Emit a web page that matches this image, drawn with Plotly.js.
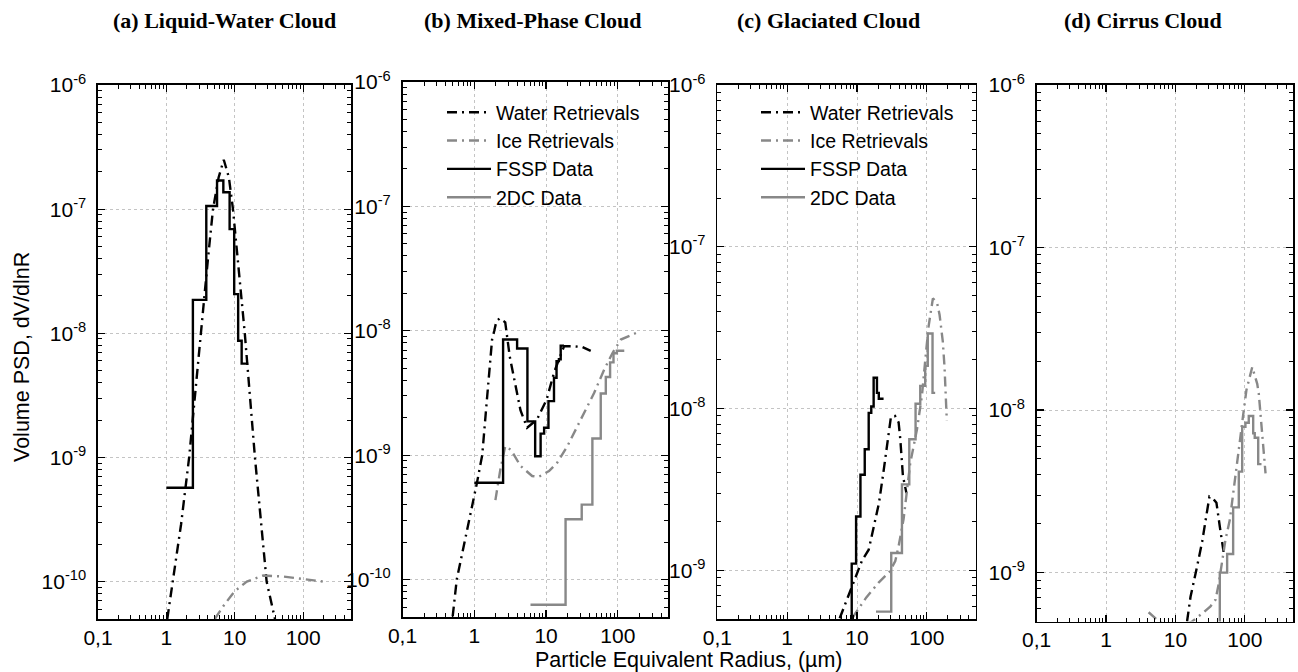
<!DOCTYPE html>
<html><head><meta charset="utf-8">
<script src="https://cdn.plot.ly/plotly-3.0.1.min.js"></script>
<style>html,body{margin:0;padding:0;background:#fff}#chart{width:1298px;height:672px}</style>
</head><body><div id="chart"></div>
<script>
// ---------- tick labels ----------
const xTickVals = [0.1, 1, 10, 100];
const xTickText = ['0,1', '1', '10', '100'];
const yTickVals = [1e-10, 1e-9, 1e-8, 1e-7, 1e-6];
const yTickText = ['10<sup>-10</sup>', '10<sup>-9</sup>', '10<sup>-8</sup>', '10<sup>-7</sup>', '10<sup>-6</sup>'];
const panelTitles = ['(a) Liquid-Water Cloud', '(b) Mixed-Phase Cloud', '(c) Glaciated Cloud', '(d) Cirrus Cloud'];
const seriesNames = ['Water Retrievals', 'Ice Retrievals', 'FSSP Data', '2DC Data'];

// ---------- (a) Liquid-Water Cloud ----------
const aWaterR = [1.03, 1.24, 1.64, 2.15, 3.16, 4.0, 4.8, 5.8, 6.9, 8.2, 9.4, 11.5, 14, 19.7, 29.2, 38.7];
const aWaterV = [5e-11, 1e-10, 2.9e-10, 1e-9, 1e-8, 3.7e-8, 1e-7, 1.8e-7, 2.5e-7, 1.8e-7, 1e-7, 3.2e-8, 1e-8, 1e-9, 1e-10, 5e-11];
const aIceR = [5.1, 7, 10, 15, 26, 50, 100, 200];
const aIceV = [5e-11, 6.5e-11, 8.4e-11, 1.0e-10, 1.12e-10, 1.1e-10, 1.05e-10, 1.0e-10];
const aFsspEdges = [1, 2.44, 3.83, 5.5, 6.8, 8.4, 9.8, 11.2, 12.6, 15.7];
const aFsspVals = [5.7e-10, 1.86e-8, 1.06e-7, 1.7e-7, 1.37e-7, 6.9e-8, 2.07e-8, 8.7e-9, 5.7e-9];

// ---------- (b) Mixed-Phase Cloud ----------
const bWaterR = [0.5, 0.57, 1.09, 1.29, 1.5, 1.77, 1.9, 2.03, 2.26, 2.7, 3.12, 3.75, 4.4, 5.45, 7.5, 10.2, 12.9, 16, 17.8, 24.5, 32, 41.9];
const bWaterV = [5.05e-11, 1e-10, 6e-10, 1e-9, 2.8e-9, 8.5e-9, 1e-8, 1.19e-8, 1.26e-8, 1.17e-8, 6.2e-9, 3.6e-9, 2.3e-9, 1.66e-9, 1.94e-9, 2.8e-9, 4.6e-9, 6.4e-9, 7.5e-9, 7.5e-9, 7.4e-9, 6.9e-9];
const bIceR = [1.97, 2.31, 2.7, 3.26, 4.4, 6.4, 7.9, 11, 14.3, 19.8, 30.4, 46.7, 64.4, 84, 110, 179];
const bIceV = [4.35e-10, 7.7e-10, 1.18e-9, 1.1e-9, 8.2e-10, 6.8e-10, 6.7e-10, 7.45e-10, 8.7e-10, 1.18e-9, 1.93e-9, 3.16e-9, 4.86e-9, 6.6e-9, 8.5e-9, 9.6e-9];
const bFsspEdges = [1, 2.52, 3.95, 5.5, 7.05, 8.4, 9.4, 10.8, 12.9, 14.0, 15.1, 16, 17.8];
const bFsspVals = [6.0e-10, 8.5e-9, 7.2e-9, 1.87e-9, 9.8e-10, 1.49e-9, 1.66e-9, 2.72e-9, 4.19e-9, 5.7e-9, 5.9e-9, 7.6e-9];
const b2dcEdges = [6.07, 18.7, 31.4, 44.2, 57.8, 68, 78, 87, 97, 123];
const b2dcVals = [6.27e-11, 3.05e-10, 4.0e-10, 1.36e-9, 3.13e-9, 4.25e-9, 5.57e-9, 6.6e-9, 6.9e-9];

// ---------- (c) Glaciated Cloud ----------
const cWaterR = [5.65, 8.0, 9.5, 11.8, 14.7, 17.9, 20.6, 24, 27.4, 30.6, 35, 39.4, 41.6, 45.4, 51];
const cWaterV = [5.05e-10, 7.45e-10, 9.2e-10, 1.15e-9, 1.34e-9, 1.97e-9, 2.6e-9, 4.1e-9, 6.2e-9, 8.9e-9, 9.0e-9, 8.2e-9, 6.5e-9, 3.84e-9, 3.0e-9];
const cIceR = [8.5, 10.5, 13.6, 20.4, 29.3, 35.3, 39.4, 46.4, 51.8, 57.8, 72, 85, 94.6, 105.6, 122, 140, 152, 169, 179, 187, 193];
const cIceV = [5.05e-10, 5.8e-10, 6.8e-10, 8.4e-10, 9.8e-10, 1.14e-9, 1.41e-9, 2.07e-9, 3.0e-9, 4.6e-9, 7.4e-9, 1.2e-8, 1.97e-8, 3.2e-8, 4.8e-8, 4.5e-8, 3.8e-8, 2.6e-8, 1.8e-8, 1.23e-8, 8.4e-9];
const cFsspEdges = [7.2, 8.4, 9.7, 11.2, 12.9, 14.7, 16, 17.3, 19.3, 20.5, 24];
const cFsspVals = [4e-10, 1.1e-9, 2.15e-9, 3.9e-9, 5.6e-9, 9.4e-9, 1.03e-8, 1.55e-8, 1.25e-8, 1.15e-8];
const c2dcEdges = [18.7, 30.9, 44, 56, 68.9, 80.4, 94.6, 103, 120.5, 131.5];
const c2dcVals = [5.55e-10, 1.28e-9, 3.4e-9, 6.46e-9, 1.07e-8, 1.38e-8, 1.84e-8, 2.91e-8, 1.25e-8];

// ---------- (d) Cirrus Cloud ----------
const dWaterR = [14.7, 16.5, 20.5, 24.3, 28, 30.9, 35, 39, 43.6, 49.7];
const dWaterV = [5.0e-10, 7.1e-10, 1.09e-9, 1.55e-9, 2.26e-9, 2.93e-9, 2.85e-9, 2.69e-9, 1.92e-9, 1.32e-9];
const dIceR = [4.1, 5.8, 10, 17.4, 25.6, 32, 37.8, 42.2, 47.1, 52.6, 60.8, 68, 75.9, 84.7, 94.6, 105.6, 128, 151, 159, 172, 184, 199];
const dIceV = [5.7e-10, 5.0e-10, 4.5e-10, 5.0e-10, 5.7e-10, 6.2e-10, 6.8e-10, 8.6e-10, 1.17e-9, 1.59e-9, 2.11e-9, 3.0e-9, 4.28e-9, 6.4e-9, 9.3e-9, 1.33e-8, 1.84e-8, 1.45e-8, 1.26e-8, 8.7e-9, 5.96e-9, 4.08e-9];
const d2dcEdges = [30, 43.6, 55.6, 67.9, 81.9, 91.6, 102, 114, 132, 139, 156, 174];
const d2dcVals = [4e-10, 1.0e-9, 1.30e-9, 2.52e-9, 4.18e-9, 7.9e-9, 8.36e-9, 9.2e-9, 7.2e-9, 6.76e-9, 4.65e-9];

// ---------- styles ----------
const BLACK = '#000000', GREY = '#888888';
const DASHDOT = '10px,5px,2px,5px';
const LW = 2.4;
const FONT = 'Liberation Sans, Arial, sans-serif';
const TICKSIZE = 21;

function curve(r, v, color, dash, name, ax, legendId, show) {
  return {x: r, y: v, type: 'scatter', mode: 'lines', name: name,
    line: {color: color, width: LW, dash: dash},
    xaxis: 'x' + ax, yaxis: 'y' + ax, showlegend: show, legend: legendId, hoverinfo: 'skip'};
}
function step(edges, vals, color, name, ax, legendId, show) {
  return {x: edges, y: vals.concat([vals[vals.length - 1]]), type: 'scatter', mode: 'lines', name: name,
    line: {color: color, width: LW, shape: 'hv'},
    xaxis: 'x' + ax, yaxis: 'y' + ax, showlegend: show, legend: legendId, hoverinfo: 'skip'};
}

const traces = [];
// (a)
traces.push(curve(aWaterR, aWaterV, BLACK, DASHDOT, seriesNames[0], '', 'legend', false));
traces.push(curve(aIceR, aIceV, GREY, DASHDOT, seriesNames[1], '', 'legend', false));
traces.push(step(aFsspEdges, aFsspVals, BLACK, seriesNames[2], '', 'legend', false));
// (b)
traces.push(curve(bWaterR, bWaterV, BLACK, DASHDOT, seriesNames[0], '2', 'legend', true));
traces.push(curve(bIceR, bIceV, GREY, DASHDOT, seriesNames[1], '2', 'legend', true));
traces.push(step(bFsspEdges, bFsspVals, BLACK, seriesNames[2], '2', 'legend', true));
traces.push(step(b2dcEdges, b2dcVals, GREY, seriesNames[3], '2', 'legend', true));
// (c)
traces.push(curve(cWaterR, cWaterV, BLACK, DASHDOT, seriesNames[0], '3', 'legend2', true));
traces.push(curve(cIceR, cIceV, GREY, DASHDOT, seriesNames[1], '3', 'legend2', true));
traces.push(step(cFsspEdges, cFsspVals, BLACK, seriesNames[2], '3', 'legend2', true));
traces.push(step(c2dcEdges, c2dcVals, GREY, seriesNames[3], '3', 'legend2', true));
// (d)
traces.push(curve(dWaterR, dWaterV, BLACK, DASHDOT, seriesNames[0], '4', 'legend', false));
traces.push(curve(dIceR, dIceV, GREY, DASHDOT, seriesNames[1], '4', 'legend', false));
traces.push(step(d2dcEdges, d2dcVals, GREY, seriesNames[3], '4', 'legend', false));

// minor tick positions (2..9 per decade)
function minorVals(lo, hi) {
  const out = [];
  for (let e = lo; e <= hi; e++) for (let m = 2; m <= 9; m++) out.push(m * Math.pow(10, e));
  return out;
}
const W = 1298, H = 672;
const panels = [
  {x0: 98, x1: 351, y0: 85, y1: 619, ylo: Math.log10(5e-11)},
  {x0: 402.5, x1: 668, y0: 82, y1: 617, ylo: Math.log10(5e-11)},
  {x0: 717.3, x1: 975.7, y0: 85, y1: 619, ylo: Math.log10(5e-10)},
  {x0: 1036.7, x1: 1293.3, y0: 85, y1: 621.5, ylo: Math.log10(5e-10)}
];
const legendFont = {family: FONT, size: 19.5, color: '#000'};
const layout = {
  width: W, height: H, margin: {l: 0, r: 0, t: 0, b: 0},
  paper_bgcolor: '#fff', plot_bgcolor: '#fff',
  font: {family: FONT, size: TICKSIZE, color: '#000'},
  annotations: [],
  legend: {x: 442 / W, y: 1 - 93 / H, xanchor: 'left', yanchor: 'top', bgcolor: 'rgba(0,0,0,0)',
    font: legendFont, tracegroupgap: 0, itemwidth: 44},
  legend2: {x: 756 / W, y: 1 - 93 / H, xanchor: 'left', yanchor: 'top', bgcolor: 'rgba(0,0,0,0)',
    font: legendFont, tracegroupgap: 0, itemwidth: 44}
};
panels.forEach((p, i) => {
  const s = i === 0 ? '' : String(i + 1);
  layout['xaxis' + s] = {
    type: 'log', domain: [p.x0 / W, p.x1 / W], range: [-1, Math.log10(500)], anchor: 'y' + s,
    tickmode: 'array', tickvals: xTickVals, ticktext: xTickText,
    ticks: 'inside', ticklen: 7, tickwidth: 1.2, tickcolor: '#000',
    showline: true, linecolor: '#000', linewidth: 1.6, mirror: 'ticks',
    showgrid: true, gridcolor: '#c4c4c4', griddash: 'dot', gridwidth: 1,
    zeroline: false, tickfont: {family: FONT, size: TICKSIZE, color: '#000'}, ticklabelstandoff: -1,
    minor: {tickmode: 'array', tickvals: minorVals(-1, 2), ticks: 'inside', ticklen: 4, tickwidth: 1, tickcolor: '#000', showgrid: false}
  };
  layout['yaxis' + s] = {
    type: 'log', domain: [1 - p.y1 / H, 1 - p.y0 / H], range: [p.ylo, -6], anchor: 'x' + s,
    tickmode: 'array', tickvals: yTickVals, ticktext: yTickText,
    ticks: 'inside', ticklen: 7, tickwidth: 1.2, tickcolor: '#000',
    showline: true, linecolor: '#000', linewidth: 1.6, mirror: 'ticks',
    showgrid: true, gridcolor: '#c4c4c4', griddash: 'dot', gridwidth: 1,
    zeroline: false, tickfont: {family: FONT, size: TICKSIZE, color: '#000'}, ticklabelstandoff: 6,
    minor: {tickmode: 'array', tickvals: minorVals(-11, -7), ticks: 'inside', ticklen: 4, tickwidth: 1, tickcolor: '#000', showgrid: false}
  };
});
const titleCenters = [224.5, 533, 828, 1143];
panelTitles.forEach((t, i) => {
  layout.annotations.push({text: '<b>' + t + '</b>', xref: 'paper', yref: 'paper', x: titleCenters[i] / W, y: 1 - 20 / H,
    xanchor: 'center', yanchor: 'middle', showarrow: false,
    font: {family: 'Liberation Serif, Times New Roman, serif', size: 22, color: '#000'}});
});
layout.annotations.push({text: 'Volume PSD, dV/dlnR', xref: 'paper', yref: 'paper', x: 22 / W, y: 1 - 357 / H,
  xanchor: 'center', yanchor: 'middle', textangle: -90, showarrow: false, font: {family: FONT, size: 21.5, color: '#000'}});
layout.annotations.push({text: 'Particle Equivalent Radius, (\u00b5m)', xref: 'paper', yref: 'paper', x: 689 / W, y: 1 - 660 / H,
  xanchor: 'center', yanchor: 'middle', showarrow: false, font: {family: FONT, size: 21.5, color: '#000'}});

Plotly.newPlot('chart', traces, layout, {staticPlot: true, displayModeBar: false});
</script></body></html>
